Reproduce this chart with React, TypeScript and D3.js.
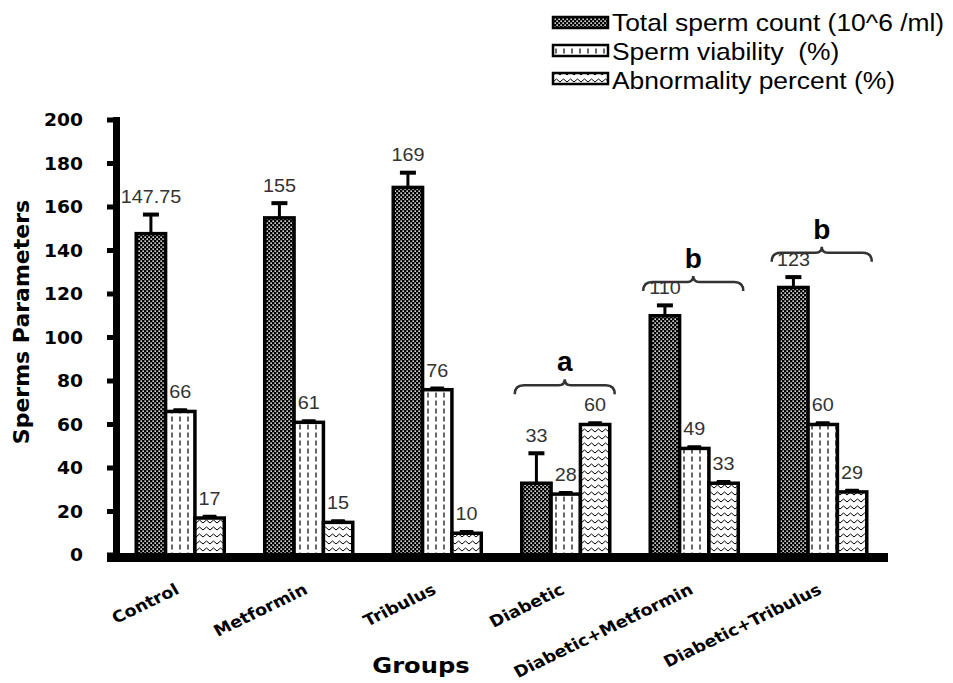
import React, { useRef, useEffect } from "react";
import * as d3 from "d3";

// groups on the x axis
const groups = [
  "Control",
  "Metformin",
  "Tribulus",
  "Diabetic",
  "Diabetic+Metformin",
  "Diabetic+Tribulus",
];

const seriesNames = [
  "Total sperm count (10^6 /ml)",
  "Sperm viability  (%)",
  "Abnormality percent (%)",
];

const totalCount = [147.75, 155, 169, 33, 110, 123];
const totalErr = [9, 7, 7, 14, 5, 5];
const viability = [66, 61, 76, 28, 49, 60];
const viabilityErr = [1, 1, 1, 1, 1, 1];
const abnormality = [17, 15, 10, 60, 33, 29];
const abnormalityErr = [1, 1, 1, 1, 1, 1];

const yTicks = [0, 20, 40, 60, 80, 100, 120, 140, 160, 180, 200];

// significance braces
const braceGroups = ["Diabetic", "Diabetic+Metformin", "Diabetic+Tribulus"];
const braceLetters = ["a", "b", "b"];
const braceLevels = [78, 125.5, 139];

const App: React.FC = () => {
  const width = 953;
  const height = 683;
  const svg = useRef<SVGSVGElement>(null);

  useEffect(() => {
    const root = d3.select(svg.current);
    root.selectAll("*").remove();
    root.attr("width", width).attr("height", height);

    const defs = root.append("defs");
    const dots = defs
      .append("pattern")
      .attr("id", "pDots")
      .attr("patternUnits", "userSpaceOnUse")
      .attr("width", 4)
      .attr("height", 4);
    dots.append("rect").attr("width", 4).attr("height", 4).attr("fill", "#000");
    dots.append("rect").attr("x", 0.4).attr("y", 0.4).attr("width", 1.5).attr("height", 1.5).attr("fill", "#fff");
    dots.append("rect").attr("x", 2.4).attr("y", 2.4).attr("width", 1.5).attr("height", 1.5).attr("fill", "#fff");

    const dashes = defs
      .append("pattern")
      .attr("id", "pDash")
      .attr("patternUnits", "userSpaceOnUse")
      .attr("width", 8)
      .attr("height", 8);
    dashes.append("rect").attr("width", 8).attr("height", 8).attr("fill", "#fff");
    dashes
      .append("line")
      .attr("x1", 4)
      .attr("x2", 4)
      .attr("y1", 0.5)
      .attr("y2", 5.5)
      .attr("stroke", "#000")
      .attr("stroke-width", 1.2);

    const waves = defs
      .append("pattern")
      .attr("id", "pWave")
      .attr("patternUnits", "userSpaceOnUse")
      .attr("width", 7)
      .attr("height", 7);
    waves.append("rect").attr("width", 7).attr("height", 7).attr("fill", "#fff");
    waves
      .append("path")
      .attr("d", "M0,5 L3.5,2 L7,5")
      .attr("fill", "none")
      .attr("stroke", "#000")
      .attr("stroke-width", 1);

    const fills = ["url(#pDots)", "url(#pDash)", "url(#pWave)"];
    const values = [totalCount, viability, abnormality];
    const errs = [totalErr, viabilityErr, abnormalityErr];

    const x = d3
      .scaleBand<string>()
      .domain(groups)
      .range([116, 887])
      .paddingInner(0.315)
      .paddingOuter(0.1575);
    const xs = d3
      .scaleBand<number>()
      .domain([0, 1, 2])
      .range([0, x.bandwidth()]);
    const y = d3.scaleLinear().domain([0, 200]).range([555, 120]);

    // bars
    values.forEach((vals, s) => {
      const g = root.append("g");
      g.selectAll("rect")
        .data(vals)
        .join("rect")
        .attr("x", (_d, i) => (x(groups[i]) as number) + (xs(s) as number))
        .attr("y", (d) => y(d))
        .attr("width", xs.bandwidth())
        .attr("height", (d) => y(0) - y(d))
        .attr("fill", fills[s])
        .attr("stroke", "#000")
        .attr("stroke-width", 3.5);

      // error bars
      vals.forEach((v, i) => {
        const cx = (x(groups[i]) as number) + (xs(s) as number) + xs.bandwidth() / 2;
        const e = errs[s][i];
        const top = y(v + e);
        if (e >= 3) {
          g.append("line")
            .attr("x1", cx)
            .attr("x2", cx)
            .attr("y1", y(v))
            .attr("y2", top)
            .attr("stroke", "#000")
            .attr("stroke-width", 3);
          g.append("rect")
            .attr("x", cx - 8)
            .attr("y", top - 1.5)
            .attr("width", 16)
            .attr("height", 4)
            .attr("fill", "#000");
        } else {
          g.append("rect")
            .attr("x", cx - 7)
            .attr("y", top - 1)
            .attr("width", 14)
            .attr("height", 3)
            .attr("rx", 1)
            .attr("fill", "#000");
        }
        g.append("text")
          .attr("transform", `translate(${cx},${top - 11}) scale(1.1,1)`)
          .attr("text-anchor", "middle")
          .attr("font-family", "'Liberation Sans', Arial, sans-serif")
          .attr("font-size", 18)
          .attr("fill", "#333")
          .text(String(v));
      });
    });

    // y axis
    const axis = root.append("g");
    axis
      .append("rect")
      .attr("x", 113)
      .attr("y", y(200) - 3)
      .attr("width", 7)
      .attr("height", 562 - y(200) + 3)
      .attr("fill", "#000");
    axis
      .selectAll("rect.tick")
      .data(yTicks)
      .join("rect")
      .attr("class", "tick")
      .attr("x", 107)
      .attr("y", (d) => y(d) - 2.5)
      .attr("width", 7)
      .attr("height", 5)
      .attr("fill", "#000");
    axis
      .selectAll("text")
      .data(yTicks)
      .join("text")
      .attr("transform", (d) => `translate(83,${y(d) + 6}) scale(1.1,1)`)
      .attr("text-anchor", "end")
      .attr("font-family", "'DejaVu Sans', Verdana, sans-serif")
      .attr("font-weight", "bold")
      .attr("font-size", 17)
      .text((d) => d);

    // x baseline
    root
      .append("rect")
      .attr("x", 107)
      .attr("y", 553)
      .attr("width", 888 - 107)
      .attr("height", 9)
      .attr("fill", "#000");

    // group labels
    root
      .append("g")
      .selectAll("text")
      .data(groups)
      .join("text")
      .attr(
        "transform",
        (d) =>
          `translate(${(x(d) as number) + x.bandwidth() / 2},593) scale(1.1,1) rotate(-28)`
      )
      .attr("text-anchor", "end")
      .attr("font-family", "'DejaVu Sans', Verdana, sans-serif")
      .attr("font-weight", "bold")
      .attr("font-size", 16)
      .text((d) => d);

    // axis titles
    root
      .append("text")
      .attr("transform", "translate(421,673) scale(1.1,1)")
      .attr("text-anchor", "middle")
      .attr("font-family", "'DejaVu Sans', Verdana, sans-serif")
      .attr("font-weight", "bold")
      .attr("font-size", 22)
      .text("Groups");
    root
      .append("text")
      .attr("transform", "translate(29,322) rotate(-90)")
      .attr("text-anchor", "middle")
      .attr("font-family", "'DejaVu Sans', Verdana, sans-serif")
      .attr("font-weight", "bold")
      .attr("font-size", 22)
      .text("Sperms Parameters");

    // braces
    braceGroups.forEach((gName, i) => {
      const bx = x(gName) as number;
      const x0 = bx - 7;
      const x1 = bx + x.bandwidth() + 5;
      const xm = (x0 + x1) / 2;
      const y0 = y(braceLevels[i]);
      const r = 9;
      root
        .append("path")
        .attr(
          "d",
          `M${x0},${y0 + r} Q${x0},${y0} ${x0 + r},${y0} L${xm - 6},${y0} Q${xm},${y0} ${xm},${y0 - 6} Q${xm},${y0} ${xm + 6},${y0} L${x1 - r},${y0} Q${x1},${y0} ${x1},${y0 + r}`
        )
        .attr("fill", "none")
        .attr("stroke", "#333")
        .attr("stroke-width", 2.5);
      root
        .append("text")
        .attr("x", xm)
        .attr("y", y0 - 14)
        .attr("text-anchor", "middle")
        .attr("font-family", "'Liberation Sans', Arial, sans-serif")
        .attr("font-weight", "bold")
        .attr("font-size", 28)
        .text(braceLetters[i]);
    });

    // legend
    const legend = root.append("g");
    seriesNames.forEach((name, i) => {
      legend
        .append("rect")
        .attr("x", 553)
        .attr("y", 17 + i * 28)
        .attr("width", 55)
        .attr("height", 11)
        .attr("fill", fills[i])
        .attr("stroke", "#000")
        .attr("stroke-width", 2.5);
      legend
        .append("text")
        .attr("transform", `translate(612,${31 + i * 29}) scale(1.1,1)`)
        .attr("font-family", "'Liberation Sans', Arial, sans-serif")
        .attr("font-size", 24)
        .attr("fill", "#000")
        .style("white-space", "pre")
        .text(name);
    });
  }, []);

  return (
    <svg
      ref={svg}
      style={{ position: "absolute", left: 0, top: 0, background: "#fff" }}
    ></svg>
  );
};

export default App;
